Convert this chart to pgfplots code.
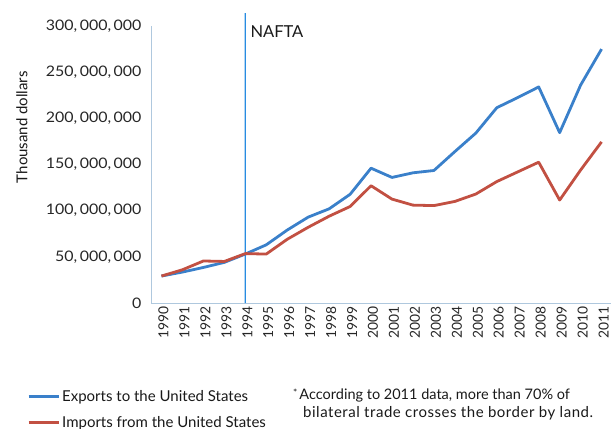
\documentclass[border=0pt]{standalone}
\usepackage{pgfplots}
\pgfplotsset{compat=1.18}
\usepackage{fontspec}
\setmainfont{Lato}
\definecolor{expblue}{RGB}{58,128,202}
\definecolor{impred}{RGB}{194,80,66}
\definecolor{naftablue}{RGB}{40,140,225}
\definecolor{axcol}{RGB}{175,200,222}
\newcommand\cm{,\kern2.5bp}
\begin{document}
\begin{tikzpicture}
\begin{axis}[
  at={(0,0)}, anchor=south west,
  scale only axis, width=460bp, height=277bp,
  xmin=-0.5, xmax=21.45, ymin=0, ymax=300e6,
  axis x line=bottom, axis y line=left,
  axis line style={axcol, line width=0.8bp, -},
  major tick length=0,
  scaled y ticks=false,
  xtick={0,...,21},
  xticklabels={1990,1991,1992,1993,1994,1995,1996,1997,1998,1999,2000,2001,2002,2003,2004,2005,2006,2007,2008,2009,2010,2011},
  ytick={0,50e6,100e6,150e6,200e6,250e6,300e6},
  yticklabels={0,{50\cm000\cm000},{100\cm000\cm000},{150\cm000\cm000},{200\cm000\cm000},{250\cm000\cm000},{300\cm000\cm000}},
  xticklabel style={rotate=90, anchor=east, font=\fontsize{13.8bp}{15bp}\selectfont, yshift=-2bp, text=black!85},
  yticklabel style={font=\fontsize{14.5bp}{15bp}\selectfont\addfontfeatures{FakeStretch=1.1}, xshift=-6bp, text=black!85},
  ylabel={Thousand dollars},
  ylabel style={at={(axis description cs:-0.2804,0.635)}, anchor=center, font=\fontsize{15bp}{16bp}\selectfont, text=black!90},
  clip=false,
  legend cell align=left,
  legend style={at={(axis description cs:-0.2696,-0.307)}, anchor=north west, draw=none, fill=none,
    font=\fontsize{15bp}{16bp}\selectfont, row sep=9.5bp, inner sep=0pt, text=black!90},
  legend image code/.code={\draw[#1, line width=3bp] (0bp,0bp) -- (30bp,0bp);},
]
\addplot[draw=none, fill=naftablue, forget plot] coordinates {(3.97,0) (4.03,0) (4.03,314e6) (3.97,314e6) (3.97,0)};
\addplot[expblue, line width=2.8bp, line join=round] coordinates {
(0,29.2e6) (1,33.5e6) (2,38.5e6) (3,44e6) (4,53e6) (5,63e6) (6,79e6) (7,93e6) (8,102e6) (9,117.7e6) (10,146e6) (11,136e6) (12,141e6) (13,143.5e6) (14,164e6) (15,184e6) (16,211.5e6) (17,222.5e6) (18,234e6) (19,184.5e6) (20,236e6) (21,275e6)};
\addlegendentry{Exports to the United States}
\addplot[impred, line width=2.8bp, line join=round] coordinates {
(0,29.2e6) (1,36e6) (2,45.5e6) (3,45e6) (4,53.5e6) (5,53e6) (6,69e6) (7,82e6) (8,94e6) (9,104.5e6) (10,127e6) (11,112.5e6) (12,106e6) (13,105.5e6) (14,110e6) (15,118e6) (16,131.5e6) (17,142e6) (18,152.5e6) (19,111.5e6) (20,144e6) (21,174.5e6)};
\addlegendentry{Imports from the United States}
\node[anchor=west, font=\fontsize{16.5bp}{18bp}\selectfont, inner sep=0pt, text=black!90] at (axis cs:4,293.5e6) [xshift=5bp] {NAFTA};
\node[anchor=base west, font=\fontsize{14.5bp}{15bp}\selectfont, inner sep=0pt, text=black!90] at (axis description cs:0.3087,-0.347) {\raisebox{3bp}{\fontsize{10bp}{10bp}\selectfont*}\kern2bp According to 2011 data, more than 70\% of};
\node[anchor=base west, font=\fontsize{15bp}{15bp}\selectfont\addfontfeatures{LetterSpace=3.5}, inner sep=0pt, text=black!90] at (axis description cs:0.3304,-0.415) {bilateral trade crosses the border by land.};
\end{axis}
\pgfresetboundingbox
\path[use as bounding box] (-151bp,-126bp) rectangle (460bp,303bp);
\end{tikzpicture}
\end{document}
